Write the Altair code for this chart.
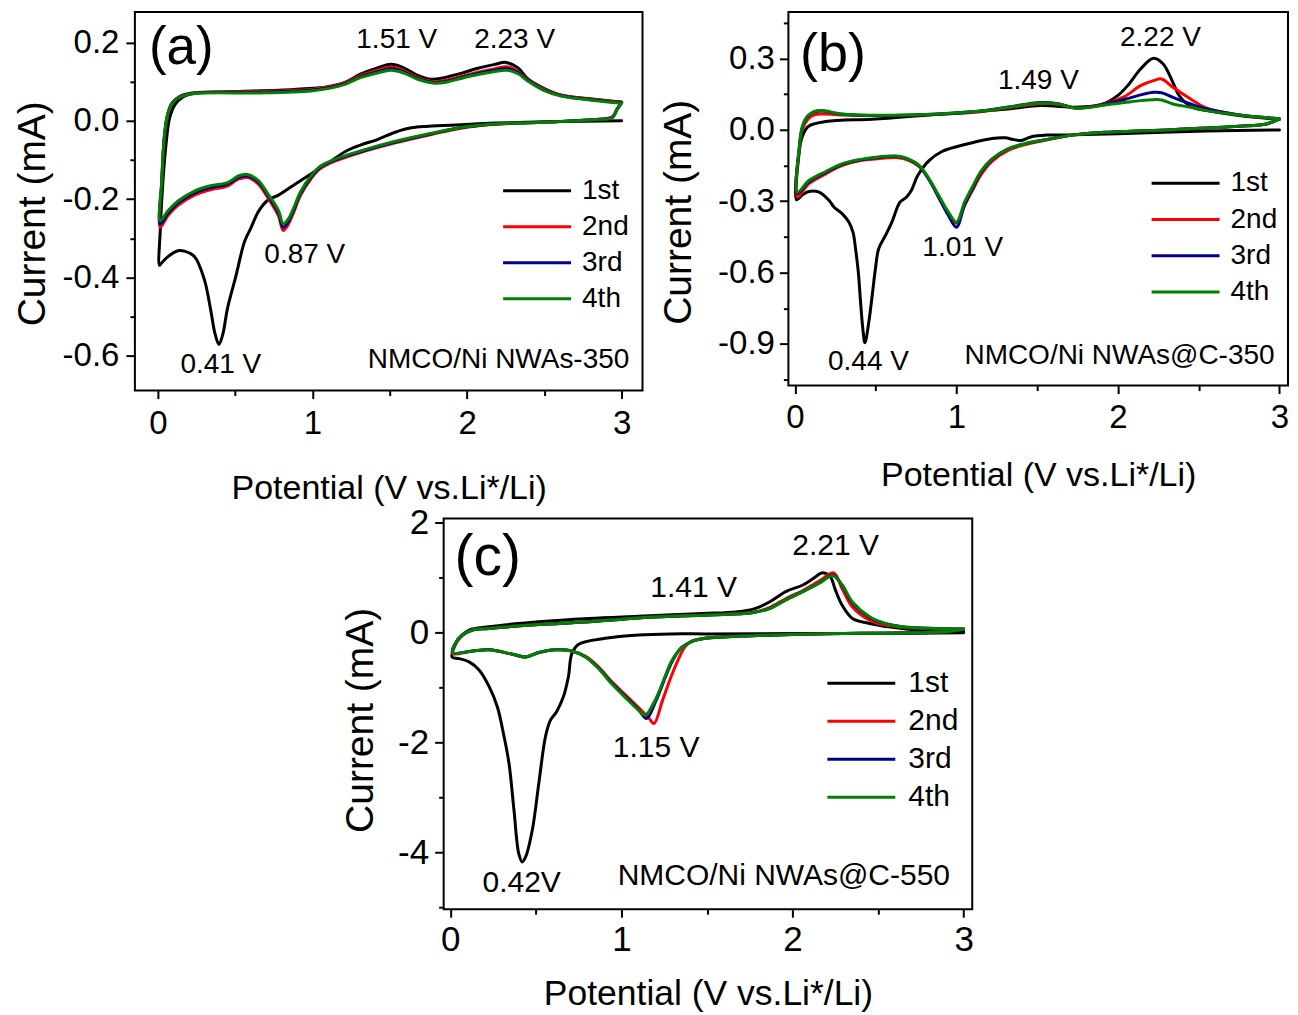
import altair as alt
import pandas as pd

FONT = "Liberation Sans"
CYCLES = ["1st", "2nd", "3rd", "4th"]
COLORS = ["#000000", "#ff0000", "#00008b", "#008000"]
X_TITLE = "Potential (V vs.Li*/Li)"
Y_TITLE = "Current (mA)"
X_TICKS = [0, 0.5, 1, 1.5, 2, 2.5, 3]

# ---------------- panel (a): NMCO/Ni NWAs-350 ----------------
A1_V = [3.00, 2.60, 2.18, 1.96, 1.75, 1.64, 1.53, 1.42, 1.31, 1.21, 1.10, 0.99, 0.88, 0.78, 0.71,
        0.65, 0.60, 0.56, 0.506, 0.45, 0.42, 0.395, 0.37, 0.34, 0.30, 0.237, 0.172, 0.129, 0.065,
        0.022, 0.01,
        0.015, 0.032, 0.054, 0.075, 0.108, 0.162, 0.24, 0.45, 0.88, 1.10, 1.21, 1.31, 1.42, 1.51,
        1.59, 1.68, 1.77, 1.85, 1.96, 2.07, 2.18, 2.25, 2.33, 2.39, 2.50, 2.61, 2.82, 3.00]
A1_I = [0.000, -0.002, -0.006, -0.010, -0.014, -0.018, -0.030, -0.048, -0.062, -0.079, -0.109,
        -0.136, -0.164, -0.190, -0.203, -0.232, -0.275, -0.309, -0.394, -0.479, -0.545, -0.571,
        -0.545, -0.480, -0.405, -0.347, -0.333, -0.332, -0.347, -0.364, -0.369,
        -0.280, -0.156, -0.054, 0.006, 0.040, 0.061, 0.070, 0.074, 0.080, 0.087, 0.098, 0.119,
        0.135, 0.144, 0.135, 0.116, 0.106, 0.110, 0.121, 0.134, 0.144, 0.149, 0.135, 0.108, 0.082,
        0.065, 0.055, 0.048]
A_V = [3.00, 2.97, 2.94, 2.82, 2.60, 2.40, 2.18, 1.96, 1.77, 1.53, 1.31, 1.14, 1.05, 0.99, 0.92,
       0.88, 0.84, 0.81, 0.78, 0.71, 0.65, 0.58, 0.52, 0.45, 0.34, 0.24, 0.13, 0.065, 0.015,
       0.025, 0.04, 0.06, 0.09, 0.14, 0.22, 0.67, 0.99, 1.10, 1.21, 1.31, 1.42, 1.51, 1.59, 1.68,
       1.79, 1.87, 1.96, 2.07, 2.18, 2.26, 2.33, 2.39, 2.50, 2.61, 2.82, 3.00]
A2_I = [0.047, 0.030, 0.010, 0.003, -0.002, -0.005, -0.009, -0.019, -0.035, -0.057, -0.081, -0.104,
        -0.122, -0.148, -0.192, -0.232, -0.267, -0.280, -0.243, -0.196, -0.162, -0.145, -0.149,
        -0.167, -0.176, -0.189, -0.216, -0.242, -0.272,
        -0.160, -0.050, 0.010, 0.045, 0.062, 0.071, 0.075, 0.080, 0.086, 0.097, 0.115, 0.129,
        0.137, 0.128, 0.111, 0.100, 0.104, 0.113, 0.124, 0.133, 0.138, 0.126, 0.106, 0.080, 0.065,
        0.054, 0.047]
A3_I = [0.046, 0.029, 0.009, 0.003, -0.002, -0.005, -0.0085, -0.018, -0.033, -0.055, -0.079,
        -0.101, -0.119, -0.145, -0.188, -0.227, -0.260, -0.272, -0.236, -0.190, -0.157, -0.141,
        -0.145, -0.162, -0.171, -0.184, -0.210, -0.236, -0.264,
        -0.155, -0.048, 0.011, 0.044, 0.061, 0.070, 0.073, 0.078, 0.084, 0.095, 0.112, 0.125,
        0.133, 0.125, 0.108, 0.098, 0.101, 0.110, 0.121, 0.129, 0.133, 0.123, 0.104, 0.078, 0.064,
        0.053, 0.046]
A4_I = [0.045, 0.028, 0.008, 0.003, -0.002, -0.005, -0.008, -0.017, -0.032, -0.053, -0.077, -0.099,
        -0.116, -0.141, -0.183, -0.221, -0.253, -0.263, -0.229, -0.186, -0.153, -0.137, -0.141,
        -0.158, -0.166, -0.179, -0.205, -0.230, -0.256,
        -0.150, -0.045, 0.012, 0.044, 0.060, 0.069, 0.071, 0.076, 0.082, 0.093, 0.110, 0.122,
        0.129, 0.122, 0.106, 0.096, 0.099, 0.108, 0.118, 0.126, 0.129, 0.120, 0.102, 0.077, 0.063,
        0.052, 0.045]
A_PEAK_T = ["1.51 V", "2.23 V", "0.87 V", "0.41 V"]
A_PEAK_X = [1.545, 2.308, 0.950, 0.407]
A_PEAK_Y = [0.185, 0.185, -0.364, -0.645]

# ---------------- panel (b): NMCO/Ni NWAs@C-350 ----------------
B1_V = [3.00, 2.55, 2.14, 1.73, 1.56, 1.46, 1.40, 1.35, 1.30, 1.22, 1.11, 1.01, 0.91, 0.83, 0.76,
        0.72, 0.69, 0.65, 0.60, 0.56, 0.518, 0.498, 0.478, 0.457, 0.433, 0.42, 0.406, 0.392, 0.375,
        0.359, 0.334, 0.293, 0.242, 0.211, 0.149, 0.086, 0.047, 0.01,
        0.025, 0.047, 0.086, 0.19, 0.50, 0.91, 1.32, 1.52, 1.73, 1.85, 1.93, 2.00, 2.06, 2.14, 2.22,
        2.28, 2.34, 2.38, 2.46, 2.55, 2.75, 2.96, 3.00]
B1_I = [0.000, -0.005, -0.013, -0.021, -0.022, -0.030, -0.045, -0.040, -0.033, -0.036, -0.052,
        -0.069, -0.091, -0.129, -0.192, -0.255, -0.283, -0.304, -0.388, -0.444, -0.500, -0.584,
        -0.696, -0.808, -0.895, -0.836, -0.724, -0.598, -0.500, -0.430, -0.388, -0.353, -0.325,
        -0.297, -0.262, -0.259, -0.273, -0.294,
        -0.094, -0.024, 0.016, 0.035, 0.046, 0.067, 0.088, 0.102, 0.095, 0.100, 0.115, 0.145,
        0.186, 0.256, 0.301, 0.277, 0.200, 0.143, 0.095, 0.081, 0.060, 0.046, 0.044]
B_V = [3.00, 2.92, 2.75, 2.34, 1.93, 1.73, 1.52, 1.42, 1.32, 1.22, 1.15, 1.11, 1.05, 1.00, 0.95,
       0.89, 0.83, 0.77, 0.70, 0.64, 0.50, 0.40, 0.29, 0.19, 0.086, 0.015,
       0.025, 0.047, 0.08, 0.12, 0.17, 0.29, 0.70, 1.11, 1.32, 1.52, 1.63, 1.73, 1.83, 1.93, 2.04,
       2.14, 2.22, 2.27, 2.34, 2.45, 2.55, 2.75, 2.96, 3.00]
B2_I = [0.046, 0.025, 0.015, 0.001, -0.010, -0.021, -0.048, -0.063, -0.086, -0.132, -0.190, -0.240,
        -0.318, -0.392, -0.350, -0.280, -0.208, -0.155, -0.127, -0.117, -0.122, -0.130, -0.150,
        -0.185, -0.226, -0.282,
        -0.100, 0.005, 0.045, 0.063, 0.067, 0.063, 0.062, 0.074, 0.093, 0.110, 0.108, 0.092, 0.097,
        0.112, 0.140, 0.186, 0.207, 0.214, 0.179, 0.130, 0.091, 0.063, 0.049, 0.046]
B3_I = [0.046, 0.025, 0.015, 0.001, -0.010, -0.021, -0.045, -0.059, -0.080, -0.124, -0.180, -0.232,
        -0.315, -0.409, -0.360, -0.285, -0.210, -0.152, -0.123, -0.112, -0.117, -0.127, -0.146,
        -0.179, -0.218, -0.268,
        -0.085, 0.015, 0.058, 0.076, 0.079, 0.066, 0.062, 0.076, 0.096, 0.115, 0.110, 0.093, 0.097,
        0.110, 0.128, 0.147, 0.158, 0.156, 0.137, 0.109, 0.088, 0.063, 0.049, 0.046]
B4_I = [0.046, 0.025, 0.015, 0.001, -0.010, -0.021, -0.045, -0.059, -0.080, -0.122, -0.175, -0.225,
        -0.304, -0.388, -0.346, -0.276, -0.206, -0.150, -0.122, -0.111, -0.115, -0.125, -0.143,
        -0.175, -0.213, -0.262,
        -0.080, 0.018, 0.060, 0.078, 0.081, 0.067, 0.063, 0.077, 0.095, 0.113, 0.109, 0.092, 0.095,
        0.106, 0.115, 0.123, 0.127, 0.126, 0.109, 0.095, 0.081, 0.063, 0.049, 0.046]
B_PEAK_T = ["2.22 V", "1.49 V", "1.01 V", "0.44 V"]
B_PEAK_X = [2.263, 1.507, 1.039, 0.455]
B_PEAK_Y = [0.353, 0.172, -0.530, -1.008]

# ---------------- panel (c): NMCO/Ni NWAs@C-550 ----------------
C1_V = [3.00, 2.50, 2.03, 1.50, 1.29, 1.10, 0.905, 0.75, 0.71, 0.69, 0.66, 0.62, 0.585, 0.556,
        0.517, 0.479, 0.44, 0.42, 0.40, 0.372, 0.343, 0.314, 0.275, 0.227, 0.169, 0.11, 0.052, 0.01,
        0.023, 0.052, 0.11, 0.227, 0.517, 0.81, 1.10, 1.477, 1.67, 1.77, 1.865, 1.96, 2.06, 2.135,
        2.17, 2.22, 2.25, 2.29, 2.35, 2.45, 2.64, 2.83, 3.00]
C1_I = [0.00, -0.01, -0.015, -0.02, -0.02, -0.04, -0.10, -0.21, -0.38, -0.80, -1.17, -1.44, -1.59,
        -1.89, -2.74, -3.59, -4.08, -4.17, -4.02, -3.23, -2.38, -1.89, -1.35, -0.98, -0.68, -0.53,
        -0.47, -0.44,
        -0.26, -0.10, 0.05, 0.11, 0.20, 0.26, 0.30, 0.35, 0.38, 0.43, 0.56, 0.75, 0.87, 1.02, 1.09,
        1.02, 0.78, 0.50, 0.26, 0.17, 0.08, 0.04, 0.03]
C2_V = [3.00, 2.90, 2.70, 2.40, 2.00, 1.70, 1.49, 1.41, 1.37, 1.33, 1.29, 1.24, 1.19, 1.16, 1.10,
        1.02, 0.94, 0.866, 0.79, 0.71, 0.615, 0.517, 0.44, 0.363, 0.227, 0.13, 0.013,
        0.03, 0.07, 0.13, 0.227, 0.517, 0.81, 1.10, 1.477, 1.67, 1.77, 1.865, 1.96, 2.06, 2.16,
        2.24, 2.29, 2.35, 2.45, 2.54, 2.64, 2.83, 3.00]
C2_I = [0.07, 0.02, 0.00, -0.01, -0.03, -0.06, -0.10, -0.15, -0.26, -0.50, -0.80, -1.23, -1.65,
        -1.55, -1.36, -1.12, -0.88, -0.62, -0.43, -0.33, -0.31, -0.36, -0.44, -0.39, -0.31, -0.33,
        -0.38,
        -0.20, -0.05, 0.05, 0.08, 0.15, 0.20, 0.27, 0.32, 0.35, 0.37, 0.46, 0.62, 0.77, 0.95, 1.09,
        0.80, 0.47, 0.23, 0.14, 0.10, 0.07, 0.07]
C3_V = [3.00, 2.90, 2.70, 2.40, 2.00, 1.70, 1.49, 1.41, 1.35, 1.30, 1.26, 1.20, 1.147, 1.10, 1.02,
        0.94, 0.866, 0.79, 0.71, 0.615, 0.517, 0.44, 0.363, 0.227, 0.13, 0.013,
        0.03, 0.07, 0.13, 0.227, 0.517, 0.81, 1.10, 1.477, 1.67, 1.77, 1.865, 1.96, 2.06, 2.16,
        2.235, 2.29, 2.35, 2.45, 2.54, 2.64, 2.83, 3.00]
C3_I = [0.07, 0.02, 0.00, -0.01, -0.03, -0.06, -0.10, -0.16, -0.27, -0.50, -0.78, -1.25, -1.56,
        -1.40, -1.15, -0.90, -0.64, -0.44, -0.33, -0.31, -0.36, -0.44, -0.39, -0.31, -0.33, -0.36,
        -0.19, -0.04, 0.05, 0.08, 0.15, 0.20, 0.27, 0.32, 0.34, 0.37, 0.44, 0.60, 0.75, 0.91, 1.05,
        0.86, 0.54, 0.28, 0.17, 0.11, 0.08, 0.07]
C4_V = [3.00, 2.90, 2.70, 2.40, 2.00, 1.70, 1.49, 1.41, 1.35, 1.29, 1.254, 1.196, 1.138, 1.10, 1.02,
        0.94, 0.866, 0.79, 0.71, 0.615, 0.517, 0.44, 0.363, 0.227, 0.13, 0.013,
        0.03, 0.07, 0.13, 0.227, 0.517, 0.81, 1.10, 1.477, 1.67, 1.77, 1.865, 1.96, 2.06, 2.16,
        2.235, 2.29, 2.35, 2.45, 2.54, 2.64, 2.83, 3.00]
C4_I = [0.07, 0.02, 0.00, -0.01, -0.03, -0.06, -0.10, -0.16, -0.28, -0.53, -0.80, -1.23, -1.50,
        -1.41, -1.17, -0.92, -0.65, -0.44, -0.33, -0.31, -0.36, -0.44, -0.39, -0.31, -0.33, -0.36,
        -0.19, -0.04, 0.05, 0.08, 0.15, 0.20, 0.27, 0.32, 0.34, 0.37, 0.44, 0.60, 0.75, 0.91, 1.04,
        0.87, 0.56, 0.29, 0.17, 0.11, 0.08, 0.07]
C_PEAK_T = ["2.21 V", "1.41 V", "1.15 V", "0.42V"]
C_PEAK_X = [2.252, 1.422, 1.203, 0.417]
C_PEAK_Y = [1.415, 0.655, -2.257, -4.715]

PANEL_LETTERS = ["(a)", "(b)", "(c)"]
LETTER_X = [-0.058, 0.031, 0.025]
LETTER_Y = [0.146, 0.249, 1.05]
SAMPLES = ["NMCO/Ni NWAs-350", "NMCO/Ni NWAs@C-350", "NMCO/Ni NWAs@C-550"]
SAMPLE_X = [3.05, 2.97, 2.92]
SAMPLE_Y = [-0.632, -0.983, -4.593]


def curves_df(pairs):
    rows = []
    for cyc, (vs, cs) in zip(CYCLES, pairs):
        assert len(vs) == len(cs), (cyc, len(vs), len(cs))
        for k, (v, c) in enumerate(zip(vs, cs)):
            rows.append({"V": v, "I": c, "cycle": cyc, "idx": k})
    return pd.DataFrame(rows)


def make_panel(k, df, peaks_t, peaks_x, peaks_y, xdom, ydom, width, height,
               yvals, yminor, yfmt, ylab, xlab, ytitle, xtitle, ylp, ytp, xlp, xtp, ytitle_y,
               legx, legy, legfont, legrow, legoff, letter_size, text_size):
    x_enc = alt.X("V:Q", scale=alt.Scale(domain=xdom, nice=False, zero=False),
                  axis=alt.Axis(values=X_TICKS, title=X_TITLE,
                                labelExpr="datum.value % 1 != 0 ? '' : format(datum.value, 'd')",
                                tickSize={"condition": {"test": "datum.value % 1 != 0", "value": 5},
                                          "value": 8},
                                labelFontSize=xlab, titleFontSize=xtitle,
                                labelPadding=xlp, titlePadding=xtp))
    y_enc = alt.Y("I:Q", scale=alt.Scale(domain=ydom, nice=False, zero=False),
                  axis=alt.Axis(values=yvals, title=Y_TITLE,
                                labelExpr=yminor + " ? '' : replace(format(datum.value, '" + yfmt
                                + "'), '\u2212', '-')",
                                tickSize={"condition": {"test": yminor, "value": 5}, "value": 9},
                                labelFontSize=ylab, titleFontSize=ytitle,
                                labelPadding=ylp, titlePadding=ytp, titleY=ytitle_y))
    lines = alt.Chart(df).mark_line(strokeWidth=3, interpolate="catmull-rom",
                                    strokeJoin="round", strokeCap="round").encode(
        x=x_enc, y=y_enc, order=alt.Order("idx:Q"),
        color=alt.Color("cycle:N", scale=alt.Scale(domain=CYCLES, range=COLORS),
                        legend=alt.Legend(orient="none", legendX=legx, legendY=legy, title=None,
                                          symbolType="M-4,0H4", symbolSize=289,
                                          symbolStrokeWidth=3, labelFontSize=legfont,
                                          labelFont=FONT, labelColor="black", rowPadding=legrow,
                                          labelOffset=legoff, padding=0)))
    peaks = alt.Chart(pd.DataFrame({"V": peaks_x, "I": peaks_y, "t": peaks_t})).mark_text(
        align="center", baseline="alphabetic", fontSize=text_size, font=FONT, color="black"
    ).encode(x=x_enc, y=y_enc, text="t:N")
    letter = alt.Chart(pd.DataFrame({"V": [LETTER_X[k]], "I": [LETTER_Y[k]],
                                     "t": [PANEL_LETTERS[k]]})).mark_text(
        align="left", baseline="alphabetic", fontSize=letter_size, font=FONT, color="black"
    ).encode(x=x_enc, y=y_enc, text="t:N")
    sample = alt.Chart(pd.DataFrame({"V": [SAMPLE_X[k]], "I": [SAMPLE_Y[k]],
                                     "t": [SAMPLES[k]]})).mark_text(
        align="right", baseline="alphabetic", fontSize=text_size, font=FONT, color="black"
    ).encode(x=x_enc, y=y_enc, text="t:N")
    return alt.layer(lines, peaks, letter, sample).properties(width=width, height=height)


dfa = curves_df([(A1_V, A1_I), (A_V, A2_I), (A_V, A3_I), (A_V, A4_I)])
dfb = curves_df([(B1_V, B1_I), (B_V, B2_I), (B_V, B3_I), (B_V, B4_I)])
dfc = curves_df([(C1_V, C1_I), (C2_V, C2_I), (C3_V, C3_I), (C4_V, C4_I)])

pa = make_panel(0, dfa, A_PEAK_T, A_PEAK_X, A_PEAK_Y, [-0.149, 3.135], [-0.689, 0.278], 508, 379,
                [0.2, 0.1, 0.0, -0.1, -0.2, -0.3, -0.4, -0.5, -0.6],
                "abs(round(datum.value*10)) % 2 == 1", ".1f",
                33, 33, 39, 34, 7, 9.5, 9, 31, 201.5, 388.5, 165, 28, 8, 31, 53, 28)
pb = make_panel(1, dfb, B_PEAK_T, B_PEAK_X, B_PEAK_Y, [-0.041, 3.053], [-1.075, 0.496], 500, 374,
                [0.45, 0.3, 0.15, 0.0, -0.15, -0.3, -0.45, -0.6, -0.75, -0.9, -1.05],
                "round(datum.value*100) % 30 != 0", ".1f",
                33, 33, 39, 34, 5, 19.5, 8, 24, 200, 383.5, 157.5, 28, 8.3, 31, 54, 28)
pc = make_panel(2, dfc, C_PEAK_T, C_PEAK_X, C_PEAK_Y, [-0.039, 3.05], [-5.03, 2.08], 529, 391,
                [2, 1, 0, -1, -2, -3, -4, -5],
                "datum.value % 2 != 0", "d",
                35, 35, 39, 35.5, 6, 17.2, 5, 19, 201.5, 403, 150, 30, 8, 32, 57, 30)

spacer = alt.Chart(pd.DataFrame({"V": [0.0]})).mark_point(opacity=0).encode(
    x=alt.X("V:Q", axis=None), y=alt.Y("V:Q", axis=None)
).properties(width=1, height=1, view=alt.ViewBackground(stroke="transparent"))

top = alt.hconcat(pa, pb, spacing=14).resolve_scale(color="independent")
bottom = alt.hconcat(spacer, pc, spacing=200).resolve_scale(color="independent")
chart = alt.vconcat(top, bottom, spacing=-2).resolve_scale(color="independent").properties(
    padding={"left": 4, "top": -3.5, "right": 0, "bottom": 0}
).configure(font=FONT).configure_view(stroke="black", strokeWidth=2).configure_axis(
    labelFont=FONT, titleFont=FONT, labelColor="black", titleColor="black",
    titleFontWeight="normal", tickColor="black", tickWidth=2, domain=False, grid=False,
    labelFlush=False, labelOverlap=False, labelBound=False
)

chart.save("out.html", embed_options={"renderer": "svg", "actions": False})
